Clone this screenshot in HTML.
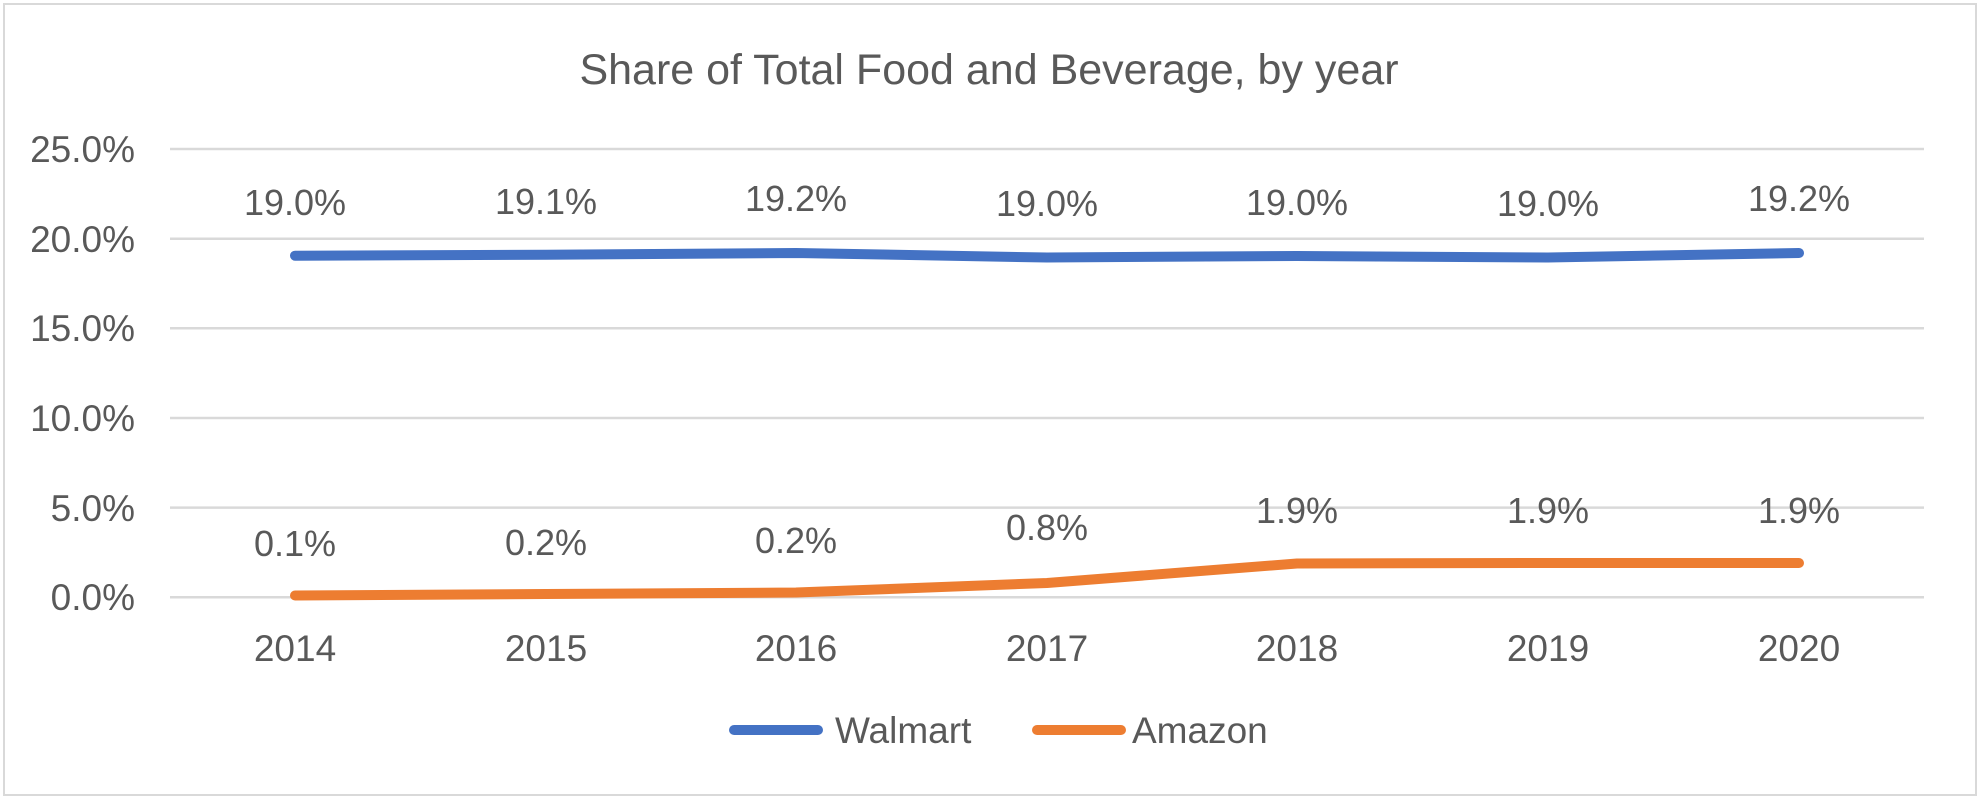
<!DOCTYPE html>
<html><head><meta charset="utf-8"><style>
html,body{margin:0;padding:0;background:#fff;}
svg{display:block;}
text{font-family:"Liberation Sans",sans-serif;fill:#595959;}
</style></head><body>
<svg width="1980" height="802" viewBox="0 0 1980 802" xmlns="http://www.w3.org/2000/svg">
<rect x="4" y="4" width="1972" height="791" fill="#fff" stroke="#d9d9d9" stroke-width="2"/>
<text x="989" y="84" font-size="43" text-anchor="middle">Share of Total Food and Beverage, by year</text>
<g stroke="#d9d9d9" stroke-width="2.5">
<line x1="170" x2="1924" y1="149" y2="149"/>
<line x1="170" x2="1924" y1="238.7" y2="238.7"/>
<line x1="170" x2="1924" y1="328.3" y2="328.3"/>
<line x1="170" x2="1924" y1="418" y2="418"/>
<line x1="170" x2="1924" y1="507.6" y2="507.6"/>
<line x1="170" x2="1924" y1="597.3" y2="597.3"/>
</g>
<g font-size="37" text-anchor="end">
<text x="135" y="162">25.0%</text>
<text x="135" y="252">20.0%</text>
<text x="135" y="341">15.0%</text>
<text x="135" y="431">10.0%</text>
<text x="135" y="521">5.0%</text>
<text x="135" y="610">0.0%</text>
</g>
<g font-size="37" text-anchor="middle">
<text x="295" y="661">2014</text><text x="546" y="661">2015</text><text x="796" y="661">2016</text>
<text x="1047" y="661">2017</text><text x="1297" y="661">2018</text><text x="1548" y="661">2019</text><text x="1799" y="661">2020</text>
</g>
<polyline fill="none" stroke="#4472c4" stroke-width="10" stroke-linecap="round" stroke-linejoin="round"
 points="295,255.7 546,254.8 796,253 1047,257.5 1297,256 1548,257.5 1799,253"/>
<polyline fill="none" stroke="#ed7d31" stroke-width="10" stroke-linecap="round" stroke-linejoin="round"
 points="295,595.5 546,594 796,592.5 1047,583 1297,563.5 1548,563 1799,563"/>
<g font-size="36" text-anchor="middle">
<text x="295" y="215">19.0%</text><text x="546" y="214">19.1%</text><text x="796" y="211">19.2%</text>
<text x="1047" y="216">19.0%</text><text x="1297" y="215">19.0%</text><text x="1548" y="216">19.0%</text><text x="1799" y="211">19.2%</text>
<text x="295" y="556">0.1%</text><text x="546" y="555">0.2%</text><text x="796" y="553">0.2%</text>
<text x="1047" y="540">0.8%</text><text x="1297" y="523">1.9%</text><text x="1548" y="523">1.9%</text><text x="1799" y="523">1.9%</text>
</g>
<line x1="734" x2="818" y1="730" y2="730" stroke="#4472c4" stroke-width="10" stroke-linecap="round"/>
<text x="835" y="743" font-size="37">Walmart</text>
<line x1="1037" x2="1121" y1="730" y2="730" stroke="#ed7d31" stroke-width="10" stroke-linecap="round"/>
<text x="1132" y="743" font-size="37">Amazon</text>
</svg>
</body></html>
